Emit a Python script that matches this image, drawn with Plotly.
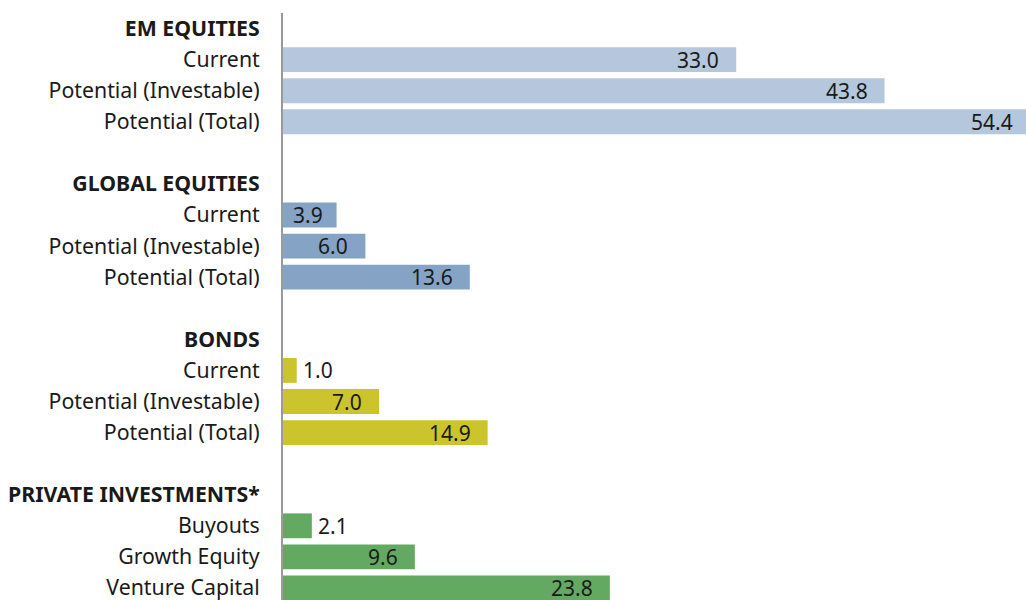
import plotly.graph_objects as go

# ---- data ----
group_names = ["EM EQUITIES", "GLOBAL EQUITIES", "BONDS", "PRIVATE INVESTMENTS*"]
em_labels = ["Current", "Potential (Investable)", "Potential (Total)"]
em_values = [33.0, 43.8, 54.4]
global_labels = ["Current", "Potential (Investable)", "Potential (Total)"]
global_values = [3.9, 6.0, 13.6]
bond_labels = ["Current", "Potential (Investable)", "Potential (Total)"]
bond_values = [1.0, 7.0, 14.9]
private_labels = ["Buyouts", "Growth Equity", "Venture Capital"]
private_values = [2.1, 9.6, 23.8]

group_labels = [em_labels, global_labels, bond_labels, private_labels]
group_values = [em_values, global_values, bond_values, private_values]
group_colors = ["#b4c7dc", "#85a3c5", "#cbc42c", "#64a962"]

FONT = "Noto Sans"
FS = 21.3
VFS = 21
X_MAX = 54.1
PLOT_W = 1026 - 283
PX_PER_UNIT = PLOT_W / X_MAX

fig = go.Figure()
tickvals, ticktext = [], []
annotations = []
row = 0
for gi, (name, labels, values, color) in enumerate(zip(group_names, group_labels, group_values, group_colors)):
    if gi > 0:
        row += 1  # blank spacer row
    tickvals.append(row)
    ticktext.append(f"<b>{name}</b>")
    row += 1
    ys = []
    for lab in labels:
        tickvals.append(row)
        ticktext.append(lab)
        ys.append(row)
        row += 1
    fig.add_trace(go.Bar(
        x=values, y=ys, orientation="h",
        marker=dict(color=color, line=dict(width=0)),
        hoverinfo="x+y", showlegend=False,
    ))
    for v, y in zip(values, ys):
        bar_px = v * PX_PER_UNIT
        text_px = 31 if v < 10 else 42
        font = dict(family=FONT, size=VFS, color="#1a1a1a")
        if bar_px < text_px + 6:
            annotations.append(dict(x=v, y=y, xref="x", yref="y", text=f"{v:.1f}",
                                    showarrow=False, xanchor="left", xshift=4, font=font))
        else:
            shift = min(15, (bar_px - text_px) / 2)
            x_anchor = min(v, X_MAX)
            overflow_px = (v - x_anchor) * PX_PER_UNIT
            annotations.append(dict(x=x_anchor, y=y, xref="x", yref="y", text=f"{v:.1f}",
                                    showarrow=False, xanchor="right",
                                    xshift=-shift + overflow_px, font=font))

plot_h = 600 - 13
row_px = 31.08
bottom = plot_h / row_px - 0.5

fig.update_layout(
    width=1026, height=600,
    margin=dict(l=283, r=0, t=13, b=0),
    plot_bgcolor="white", paper_bgcolor="white",
    bargap=0.2,
    annotations=annotations,
    font=dict(family=FONT, size=FS, color="#1a1a1a"),
)
fig.update_xaxes(range=[0, X_MAX], visible=False, showgrid=False, zeroline=False)
fig.update_yaxes(
    range=[bottom, -0.5],
    tickvals=tickvals, ticktext=ticktext,
    showline=True, linecolor="#9a9a9a", linewidth=2,
    ticks="", showgrid=False, zeroline=False,
    ticklabelstandoff=17,
    ticklabeloverflow="allow",
    tickfont=dict(family=FONT, size=FS, color="#1a1a1a"),
)

fig.write_html("out.html", config={"displayModeBar": False},
               post_script="document.body.style.margin='0';document.body.style.overflow='hidden';")
